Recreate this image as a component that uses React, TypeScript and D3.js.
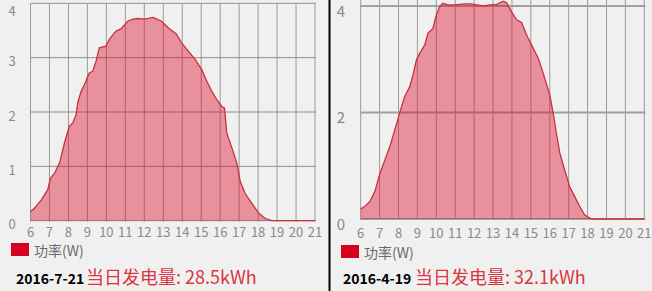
import React from "react";
import * as d3 from "d3";

const hourTicks = [6, 7, 8, 9, 10, 11, 12, 13, 14, 15, 16, 17, 18, 19, 20, 21];

const julyHours = [6.0, 6.21, 6.56, 6.91, 7.05, 7.26, 7.53, 7.79, 8.05, 8.23, 8.4, 8.49, 8.67, 8.84, 9.1, 9.28, 9.46, 9.63, 9.98, 10.16, 10.51, 10.77, 11.12, 11.4, 11.65, 12.0, 12.47, 12.91, 13.26, 13.7, 13.97, 14.32, 14.68, 15.03, 15.29, 15.56, 15.82, 16.09, 16.23, 16.35, 16.62, 16.88, 17.06, 17.32, 17.67, 18.03, 18.38, 18.73, 21];
const julyPower = [0.17, 0.23, 0.38, 0.57, 0.78, 0.87, 1.06, 1.43, 1.74, 1.8, 1.95, 2.17, 2.38, 2.5, 2.72, 2.75, 2.94, 3.18, 3.21, 3.34, 3.49, 3.53, 3.67, 3.71, 3.72, 3.71, 3.74, 3.67, 3.55, 3.43, 3.27, 3.12, 2.97, 2.78, 2.57, 2.38, 2.23, 2.1, 2.07, 1.61, 1.34, 1.06, 0.72, 0.5, 0.32, 0.14, 0.04, 0, 0];

const aprilHours = [6.0, 6.23, 6.49, 6.75, 7.02, 7.28, 7.54, 7.81, 7.98, 8.16, 8.33, 8.6, 8.77, 8.95, 9.12, 9.39, 9.56, 9.82, 10.0, 10.18, 10.35, 10.61, 10.96, 11.49, 11.79, 12.14, 12.49, 12.84, 13.19, 13.54, 13.72, 13.98, 14.25, 14.51, 14.77, 15.12, 15.39, 15.65, 16.0, 16.18, 16.35, 16.53, 16.79, 17.05, 17.32, 17.58, 17.84, 18.1, 18.25, 21];
const aprilPower = [0.19, 0.24, 0.33, 0.52, 0.86, 1.11, 1.36, 1.68, 1.89, 2.11, 2.3, 2.49, 2.71, 2.99, 3.11, 3.27, 3.49, 3.58, 3.83, 3.99, 4.05, 4.02, 4.02, 4.04, 4.04, 4.02, 4.0, 4.02, 4.03, 4.09, 4.06, 3.89, 3.74, 3.69, 3.46, 3.21, 3.02, 2.74, 2.33, 1.99, 1.61, 1.24, 0.92, 0.61, 0.42, 0.24, 0.08, 0.02, 0, 0];

const julyYTicks = [0, 1, 2, 3, 4];
const aprilYTicks = [0, 2, 4];

const legendLabel = "功率(W)";
const julyDate = "2016-7-21";
const julyEnergy = "当日发电量: 28.5kWh";
const aprilDate = "2016-4-19";
const aprilEnergy = "当日发电量: 32.1kWh";

const FONT = "'Noto Sans CJK SC', 'Noto Sans', sans-serif";

type PanelProps = {
  hours: number[];
  power: number[];
  yTicks: number[];
  xRange: [number, number];
  yRange: [number, number];
  gridTop: number;
  yLabelX: number;
  yLabelDy: number;
  xLabelY: number;
  hGridWidth: number;
  hGridColor: string;
  legendX: number;
  legendY: number;
  dateX: number;
  energyX: number;
  date: string;
  energy: string;
  yFont: number;
};

function Panel(p: PanelProps) {
  const x = d3.scaleLinear().domain([6, 21]).range(p.xRange);
  const y = d3.scaleLinear().domain([0, 4]).range(p.yRange);
  const pts = p.hours.map((h, i) => [h, p.power[i]] as [number, number]);
  const area = d3
    .area<[number, number]>()
    .x((d) => x(d[0]))
    .y0(y(0))
    .y1((d) => y(d[1]));
  const line = d3
    .line<[number, number]>()
    .x((d) => x(d[0]))
    .y((d) => y(d[1]));
  const bottom = y(0);
  return (
    <g>
      {hourTicks.map((h) => (
        <line
          key={"v" + h}
          x1={x(h)}
          x2={x(h)}
          y1={p.gridTop}
          y2={bottom + 1}
          stroke="#9a9a9a"
          strokeWidth={1}
        />
      ))}
      {p.yTicks.map((t) => (
        <line
          key={"h" + t}
          x1={p.xRange[0]}
          x2={p.xRange[1] + 1}
          y1={y(t)}
          y2={y(t)}
          stroke={p.hGridColor}
          strokeWidth={p.hGridWidth}
        />
      ))}
      <path d={area(pts) || ""} fill="rgba(220,0,30,0.4)" />
      <path d={line(pts) || ""} fill="none" stroke="#c8323e" strokeWidth={1.3} />
      {p.yTicks.map((t) => (
        <text
          key={"yl" + t}
          x={p.yLabelX}
          y={Math.max(y(t) + p.yLabelDy, 10)}
          textAnchor="middle"
          dominantBaseline="central"
          fontSize={p.yFont}
          fill="#8a8a8a"
          fontFamily={FONT}
        >
          {t}
        </text>
      ))}
      {hourTicks.map((h) => (
        <text
          key={"xl" + h}
          x={x(h)}
          y={p.xLabelY}
          textAnchor="middle"
          dominantBaseline="central"
          fontSize={13}
          fill="#8a8a8a"
          fontFamily={FONT}
        >
          {h}
        </text>
      ))}
      <rect x={p.legendX} y={p.legendY} width={18} height={13} fill="#d7001e" />
      <text
        x={p.legendX + 23}
        y={p.legendY + 7}
        dominantBaseline="central"
        fontSize={14}
        fill="#6a6a6a"
        fontFamily={FONT}
      >
        {legendLabel}
      </text>
      <text
        x={p.dateX}
        y={284}
        fontSize={14}
        fontWeight="bold"
        fill="#000"
        fontFamily={FONT}
      >
        {p.date}
      </text>
      <text x={p.energyX} y={284} fontSize={18} fill="#d9363e" fontFamily={FONT}>
        {p.energy}
      </text>
    </g>
  );
}

export default function App() {
  return (
    <svg
      width={652}
      height={291}
      style={{ position: "absolute", left: 0, top: 0, display: "block" }}
    >
      <rect x={0} y={0} width={652} height={291} fill="#f0f0f0" />
      <Panel
        hours={julyHours}
        power={julyPower}
        yTicks={julyYTicks}
        xRange={[30.5, 315]}
        yRange={[220.7, 3.3]}
        gridTop={3.3}
        yLabelX={12}
        yLabelDy={3}
        xLabelY={231}
        hGridWidth={1}
        hGridColor="#8e8e8e"
        legendX={11}
        legendY={243}
        dateX={16}
        energyX={86}
        date={julyDate}
        energy={julyEnergy}
        yFont={13}
      />
      <line x1={329.5} x2={329.5} y1={0} y2={291} stroke="#000" strokeWidth={2} />
      <Panel
        hours={aprilHours}
        power={aprilPower}
        yTicks={aprilYTicks}
        xRange={[360.7, 644.3]}
        yRange={[219, 6]}
        gridTop={0}
        yLabelX={341}
        yLabelDy={4}
        xLabelY={232.5}
        hGridWidth={2}
        hGridColor="#a0a0a0"
        legendX={341}
        legendY={245}
        dateX={343}
        energyX={415}
        date={aprilDate}
        energy={aprilEnergy}
        yFont={15}
      />
    </svg>
  );
}
